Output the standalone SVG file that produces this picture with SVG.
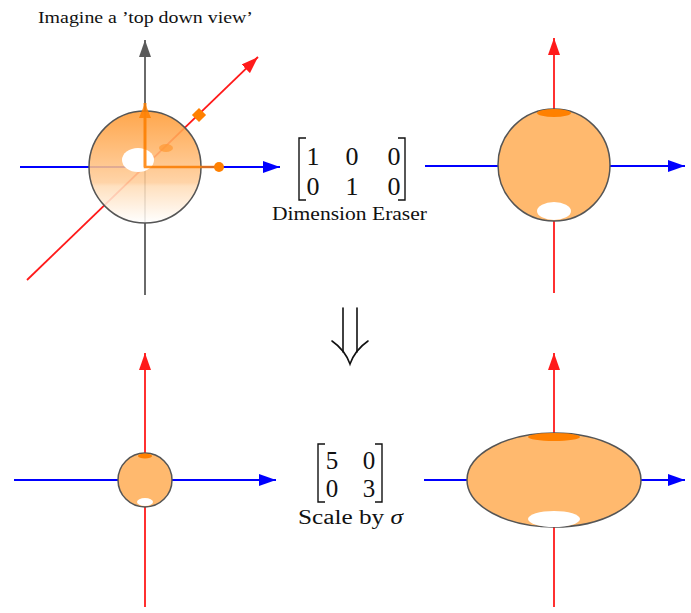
<svg xmlns="http://www.w3.org/2000/svg" width="691" height="613" viewBox="0 0 691 613">
<style>
.serif{font-family:"Liberation Serif","DejaVu Serif",serif;fill:#111}
.ax{fill:none;stroke-width:1.8}
.blue{stroke:#0000FF}
.red{stroke:#FF1A1A}
.gray{stroke:#5A5A5A}
.ball{fill:#FFB96E;stroke:#555;stroke-width:1.5}
.cap{fill:#FF8000}
.hole{fill:#FFFFFF}
.br{fill:none;stroke:#111;stroke-width:1.4}
</style>
<defs>
<marker id="hb" markerUnits="userSpaceOnUse" markerWidth="18" markerHeight="12" refX="17" refY="6" orient="auto"><path d="M0,0 L17,6 L0,12 z" fill="#0000FF"/></marker>
<marker id="hr" markerUnits="userSpaceOnUse" markerWidth="18" markerHeight="12" refX="17" refY="6" orient="auto"><path d="M0,0 L17,6 L0,12 z" fill="#FF1A1A"/></marker>
<marker id="hg" markerUnits="userSpaceOnUse" markerWidth="18" markerHeight="12" refX="17" refY="6" orient="auto"><path d="M0,0 L17,6 L0,12 z" fill="#5A5A5A"/></marker>
<marker id="ho" markerUnits="userSpaceOnUse" markerWidth="16" markerHeight="12" refX="15" refY="6" orient="auto"><path d="M0,0 L15,6 L0,12 z" fill="#FF8000"/></marker>
<linearGradient id="sph" x1="0" y1="0" x2="0" y2="1">
<stop offset="0" stop-color="#FF9A33"/>
<stop offset="0.45" stop-color="#FFBE7C"/>
<stop offset="0.64" stop-color="#FFCE9C"/>
<stop offset="0.67" stop-color="#FFDCB6"/>
<stop offset="1" stop-color="#FFFFFF"/>
</linearGradient>
</defs>

<g id="connectors">
<line class="ax gray" x1="145" y1="295" x2="145" y2="40" marker-end="url(#hg)"/>
<line class="ax blue" x1="20" y1="167" x2="280" y2="167" marker-end="url(#hb)"/>
<line class="ax red" x1="27" y1="280" x2="258" y2="57" marker-end="url(#hr)"/>
<line class="ax red" x1="554" y1="293" x2="554" y2="38" marker-end="url(#hr)"/>
<line class="ax blue" x1="425" y1="166" x2="685" y2="166" marker-end="url(#hb)"/>
<line class="ax red" x1="145" y1="607" x2="145" y2="353" marker-end="url(#hr)"/>
<line class="ax blue" x1="14" y1="480" x2="276" y2="480" marker-end="url(#hb)"/>
<line class="ax red" x1="554" y1="607" x2="554" y2="353" marker-end="url(#hr)"/>
<line class="ax blue" x1="424" y1="480" x2="685" y2="480" marker-end="url(#hb)"/>
<g fill="none" stroke="#111" stroke-width="1.6" stroke-linecap="round">
<line x1="343" y1="308" x2="343" y2="352"/>
<line x1="357" y1="308" x2="357" y2="352"/>
<path d="M332,341 Q345,350 350,364 Q355,350 368,341"/>
</g>
</g>

<g id="sphere3d">
<circle cx="145" cy="167" r="56" fill="url(#sph)" fill-opacity="0.88" stroke="#555" stroke-width="1.5"/>
<ellipse class="hole" cx="138" cy="160" rx="16" ry="12"/>
<ellipse cx="166" cy="148" rx="7" ry="4" fill="#FF9933" fill-opacity="0.7"/>
<g opacity="0.85">
<line x1="145" y1="167" x2="145" y2="103" stroke="#FF8000" stroke-width="2.6" marker-end="url(#ho)"/>
<polyline points="145,103 145,167 219,167" fill="none" stroke="#FF8000" stroke-width="2.6"/>
</g>
<circle cx="219" cy="167" r="5" fill="#FF8000"/>
<rect x="194" y="110" width="10" height="10" fill="#FF8000" transform="rotate(45 199 115)"/>
</g>

<g id="sphere-projected">
<circle class="ball" cx="554" cy="165" r="56"/>
<ellipse class="cap" cx="554" cy="113" rx="17" ry="4"/>
<ellipse class="hole" cx="554" cy="211" rx="17" ry="9"/>
</g>

<g id="sphere-small">
<circle class="ball" cx="145" cy="480" r="27"/>
<ellipse class="cap" cx="145" cy="456" rx="7" ry="2.5"/>
<ellipse class="hole" cx="145" cy="502" rx="8" ry="4"/>
</g>

<g id="ellipse-scaled">
<ellipse class="ball" cx="554" cy="480" rx="87" ry="47"/>
<ellipse class="cap" cx="554" cy="437" rx="26" ry="4"/>
<ellipse class="hole" cx="554" cy="519" rx="26" ry="8"/>
</g>

<g id="title">
<text class="serif" x="38" y="23" font-size="16" textLength="215" lengthAdjust="spacingAndGlyphs">Imagine a ’top down view’</text>
</g>

<g id="matrix-eraser">
<path class="br" d="M306,138 H299 V200 H306"/>
<path class="br" d="M398,138 H405 V200 H398"/>
<g class="serif" font-size="26" text-anchor="middle">
<text x="313" y="165">1</text>
<text x="352" y="165">0</text>
<text x="394" y="165">0</text>
<text x="313" y="195">0</text>
<text x="352" y="195">1</text>
<text x="394" y="195">0</text>
</g>
<text class="serif" x="272" y="220" font-size="19" textLength="155" lengthAdjust="spacingAndGlyphs">Dimension Eraser</text>
</g>

<g id="matrix-scale">
<path class="br" d="M325,444 H318 V502 H325"/>
<path class="br" d="M375,444 H382 V502 H375"/>
<g class="serif" font-size="25" text-anchor="middle">
<text x="332" y="469">5</text>
<text x="369" y="469">0</text>
<text x="332" y="497">0</text>
<text x="369" y="497">3</text>
</g>
<text class="serif" x="298" y="524" font-size="20" textLength="105" lengthAdjust="spacingAndGlyphs">Scale by <tspan font-style="italic">σ</tspan></text>
</g>
</svg>
